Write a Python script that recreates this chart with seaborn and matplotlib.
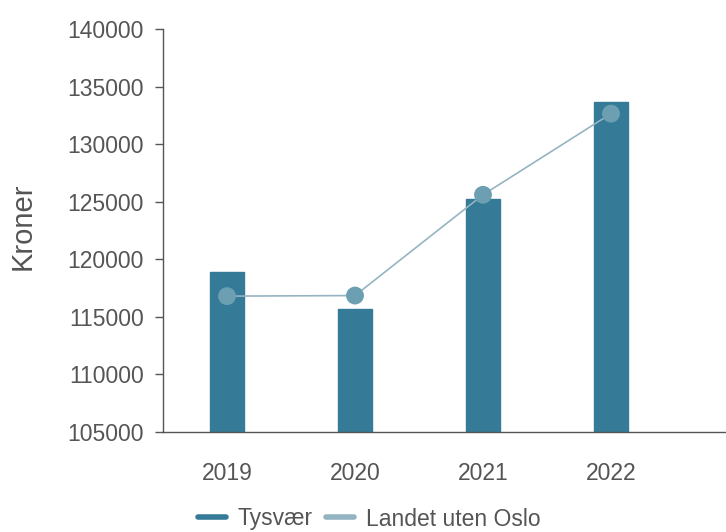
import matplotlib
matplotlib.use("Agg")
import matplotlib.pyplot as plt
import seaborn as sns
import pandas as pd
from matplotlib.lines import Line2D

years = ["2019", "2020", "2021", "2022"]
tysvaer = [118900, 115700, 125250, 133650]
landet = [116800, 116850, 125600, 132650]
yticks = [105000, 110000, 115000, 120000, 125000, 130000, 135000, 140000]

sns.set_theme(style="white")
plt.rcParams['font.family'] = ['Liberation Sans', 'DejaVu Sans']

bar_color = "#357a97"
pt_color = "#6d9fb3"
line_color = "#95b4c2"
text_color = "#555555"

fig = plt.figure(figsize=(7.26, 5.32), dpi=100)
ax = fig.add_axes([163/726, 1 - 432/532, (726 - 163)/726, (432 - 29)/532])

df = pd.DataFrame({"year": years, "Tysvær": tysvaer, "Landet uten Oslo": landet})
sns.barplot(data=df, x="year", y="Tysvær", color=bar_color, width=0.27,
            saturation=1, ax=ax, edgecolor=bar_color)
x = list(range(len(years)))
sns.lineplot(x=x, y=landet, color=line_color, linewidth=1.2, ax=ax, zorder=3)
sns.scatterplot(x=x, y=landet, color=pt_color, s=165, edgecolor="none", ax=ax, zorder=4)

ax.set_ylim(105000, 140000)
ax.set_xlim(-0.5, (726 - 227) / 128)
ax.set_yticks(yticks)
ax.set_yticklabels([str(v) for v in yticks], color=text_color, fontsize=16.5)
ax.set_xticks(x)
ax.set_xticklabels(years, color=text_color, fontsize=16.5)
ax.set_xticks([-0.5, 0.5, 1.5, 2.5, 3.5], minor=True)
ax.tick_params(axis="x", which="major", length=0, pad=21.5)
ax.tick_params(axis="x", which="minor", length=6, width=1, color="#555555", direction="out")
ax.tick_params(axis="y", length=6, width=1, color="#555555", direction="out", left=True, pad=8)
for s in ["top", "right"]:
    ax.spines[s].set_visible(False)
for s in ["left", "bottom"]:
    ax.spines[s].set_color("#555555")
    ax.spines[s].set_linewidth(1)
ax.set_xlabel("")
ax.set_ylabel("Kroner", fontsize=21, color=text_color)
ax.yaxis.set_label_coords((37 - 163) / 563, (432 - 226) / 403)

handles = [Line2D([0], [0], color=bar_color, lw=4),
           Line2D([0], [0], color=line_color, lw=4)]
fig.legend(handles, ["Tysvær", "Landet uten Oslo"], loc="center",
           bbox_to_anchor=(369/726, 1 - 519/532), ncol=2, frameon=False,
           fontsize=16.5, handlelength=1.25, columnspacing=0.55, handletextpad=0.5,
           labelcolor=text_color)

fig.savefig("out.png", dpi=100)
